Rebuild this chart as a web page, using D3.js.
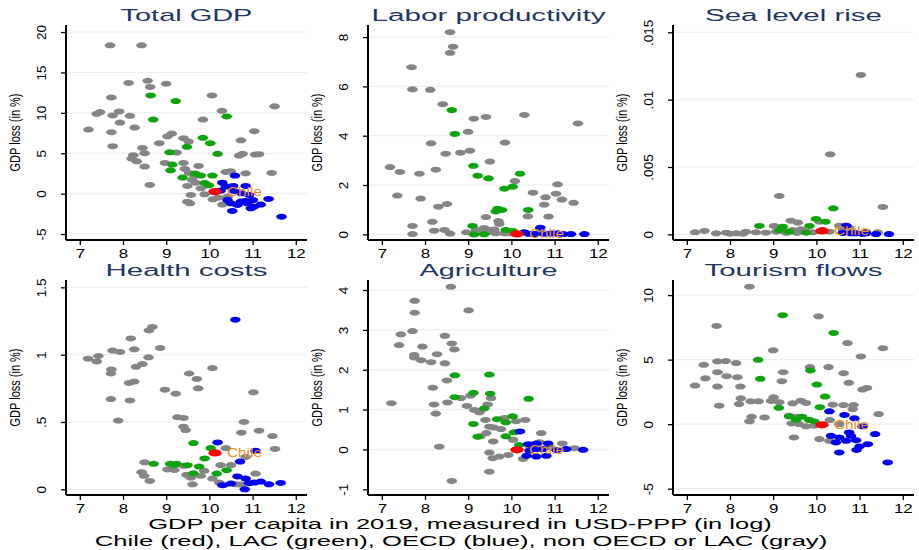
<!DOCTYPE html>
<html>
<head>
<meta charset="utf-8">
<script src="https://cdn.jsdelivr.net/npm/d3@7"></script>
<style>
  body { margin: 0; background: #fff; }
  svg { display: block; }
  text { font-family: "Liberation Sans", Arial, sans-serif; }
</style>
</head>
<body>
<svg id="chart" width="919" height="550"></svg>
<script>
// Panel titles and y-axis ticks
const panelTitles = ["Total GDP", "Labor productivity", "Sea level rise", "Health costs", "Agriculture", "Tourism flows"];
const yTickValues = [
  [-5, 0, 5, 10, 15, 20],
  [0, 2, 4, 6, 8],
  [0, 0.005, 0.01, 0.015],
  [0, 0.5, 1, 1.5],
  [-1, 0, 1, 2, 3, 4],
  [-5, 0, 5, 10]
];
const yTickLabels = [
  ["-5", "0", "5", "10", "15", "20"],
  ["0", "2", "4", "6", "8"],
  ["0", ".005", ".01", ".015"],
  ["0", ".5", "1", "1.5"],
  ["-1", "0", "1", "2", "3", "4"],
  ["-5", "0", "5", "10"]
];
const xTickValues = [7, 8, 9, 10, 11, 12];

// Chile (log GDP per capita, loss in each panel)
const chileX = 10.13;
const chileY = [0.25, 0.02, 0.00025, 0.27, -0.01, -0.05];

// Total GDP
const totalGdpGray = [[7.70,18.35],[8.43,18.35],[8.13,13.7],[8.57,13.97],[8.63,13.2],[9.0,13.6],[10.06,12.15],[7.73,11.9],[11.51,10.8],[7.39,9.88],[7.47,10.1],[7.76,9.67],[7.91,10.17],[8.16,9.63],[7.93,8.8],[8.27,8.18],[7.2,7.93],[7.73,7.6],[10.29,10.25],[9.85,9.17],[11.04,7.73],[9.13,7.44],[9.03,7.1],[9.4,6.86],[9.52,6.45],[10.73,6.6],[7.76,5.87],[8.45,5.66],[8.84,6.24],[8.5,5.0],[8.24,4.75],[9.24,5.08],[10.69,4.71],[10.77,4.92],[11.15,4.88],[11.06,4.83],[8.2,4.34],[8.32,4.0],[8.5,3.35],[8.97,3.8],[9.4,3.8],[9.75,3.43],[9.43,3.06],[10.38,2.69],[10.49,2.77],[10.84,2.52],[11.44,2.56],[9.53,2.56],[9.65,2.19],[9.6,1.7],[8.62,1.07],[9.49,0.95],[9.68,1.36],[9.89,-0.08],[9.57,-0.17],[9.49,-1.0],[10.08,-0.7],[10.3,-1.36],[10.42,-0.37],[9.8,0.66],[9.55,-1.2],[10.2,-0.5]];
const totalGdpLac = [[8.64,12.15],[9.22,11.45],[8.7,9.17],[10.4,9.55],[9.85,6.9],[10.02,6.24],[9.48,5.79],[10.19,4.92],[9.08,5.12],[9.14,3.6],[9.1,2.89],[9.38,1.98],[9.67,2.48],[9.8,2.23],[10.07,2.23],[9.89,1.32],[9.99,1.03]];
const totalGdpOecd = [[10.59,2.23],[10.3,1.36],[10.55,0.95],[10.84,0.95],[10.57,0.33],[10.74,0.04],[11.01,-0.79],[11.37,-0.66],[10.84,-0.91],[10.53,-2.15],[11.67,-2.85],[10.96,-1.82],[11.19,-1.36],[11.03,-1.61],[10.5,-1.2],[10.65,-1.4],[10.73,-0.99],[10.42,-0.79],[10.92,-0.17],[10.26,0.37],[10.38,0.87],[10.88,-1.2]];

// Labor productivity
const laborGray = [[8.58,8.2],[8.65,7.61],[8.58,7.36],[7.69,6.78],[7.71,5.88],[8.12,5.86],[8.41,5.28],[9.13,4.69],[9.41,4.76],[10.3,4.84],[11.54,4.5],[9.0,4.16],[8.14,3.69],[9.85,3.72],[8.48,3.27],[8.82,3.31],[9.04,3.39],[9.5,2.95],[7.19,2.73],[7.42,2.53],[7.87,2.46],[8.25,2.62],[10.08,2.16],[11.07,2.03],[7.36,1.57],[7.9,1.45],[10.5,1.69],[10.79,1.5],[11.03,1.65],[11.17,1.41],[11.44,1.28],[10.76,1.2],[8.31,1.12],[8.51,1.23],[9.41,0.7],[10.38,0.73],[10.86,0.72],[9.7,0.54],[9.72,0.42],[7.71,0.34],[8.17,0.51],[7.71,0.01],[8.21,0.15],[8.45,0.18],[8.58,0.03],[8.96,0.08],[9.18,0.18],[9.3,0.08],[9.37,0.26],[9.47,0.18],[9.57,0.11],[9.64,0.04],[9.84,0.04],[9.99,0.04],[10.61,0.04],[10.76,0.04],[11.07,0.04],[9.13,0.0],[9.52,0.1],[9.6,0.2]];
const laborLac = [[8.62,5.04],[8.69,4.07],[9.12,2.78],[9.22,2.38],[9.47,2.27],[10.2,2.46],[9.84,1.85],[10.03,1.93],[9.64,0.93],[9.78,0.99],[9.68,1.04],[10.39,0.99],[9.1,0.34],[9.87,0.18],[10.03,0.14],[9.14,0.0],[9.37,0.0]];
const laborOecd = [[10.67,0.27],[10.3,0.08],[11.07,0.03],[11.38,0.01],[11.69,0.01],[10.53,0.01],[10.76,0.02],[10.92,0.03],[11.2,0.01],[10.4,0.02]];

// Sea level rise
const seaGray = [[11.03,0.01183],[10.32,0.00594],[9.14,0.00285],[11.54,0.00203],[9.41,0.00101],[9.57,0.00087],[9.02,0.00062],[10.07,0.00094],[10.53,0.00064],[10.76,0.0005],[7.19,0.00015],[7.41,0.00025],[7.68,0.00008],[7.91,0.00012],[8.14,0.00008],[8.37,0.0002],[8.6,0.00015],[8.83,0.00012],[9.07,0.0002],[9.22,0.00032],[9.45,0.00032],[9.64,0.00037],[9.76,0.0002],[9.91,0.00015],[10.15,0.00032],[10.3,0.0002],[10.61,0.00032],[10.84,0.00015],[11.15,0.0002],[11.42,0.00015],[9.3,0.0001],[9.55,0.0001],[8.0,0.00005],[8.3,0.00005]];
const seaLac = [[10.39,0.00193],[8.68,0.00062],[9.99,0.00114],[10.21,0.00094],[9.84,0.00062],[9.22,0.00057],[9.14,0.00032],[9.37,0.0002],[9.76,0.00012]];
const seaOecd = [[10.69,0.00064],[10.61,0.0001],[10.92,0.00008],[11.15,0.00008],[11.38,0.00002],[11.68,0.00002],[10.8,0.00008],[11.07,0.00004]];

// Health costs
const healthGray = [[8.68,1.206],[8.6,1.18],[8.18,1.12],[8.86,1.05],[7.76,1.03],[7.93,1.02],[8.26,1.04],[8.59,0.98],[7.19,0.97],[7.43,0.99],[7.39,0.95],[7.73,0.89],[7.72,0.86],[8.3,0.91],[8.45,0.93],[9.53,0.86],[10.07,0.9],[9.71,0.82],[8.14,0.79],[8.26,0.8],[9.74,0.75],[8.97,0.74],[9.22,0.71],[11.02,0.72],[7.72,0.67],[8.16,0.66],[7.89,0.51],[9.26,0.535],[9.4,0.53],[10.8,0.5],[9.4,0.465],[9.45,0.44],[10.74,0.42],[11.15,0.435],[11.46,0.395],[11.52,0.3],[10.38,0.306],[10.84,0.24],[8.5,0.2],[10.26,0.18],[10.5,0.18],[9.4,0.174],[9.03,0.147],[9.19,0.144],[9.88,0.137],[8.43,0.127],[8.49,0.1],[8.62,0.062],[9.47,0.107],[9.57,0.087],[9.61,0.037],[9.8,0.1],[10.07,0.08],[10.23,0.05],[11.07,0.117],[10.61,0.037],[10.73,0.035],[10.33,0.03]];
const healthLac = [[9.63,0.343],[10.03,0.306],[9.89,0.229],[8.71,0.189],[9.09,0.189],[9.24,0.189],[9.49,0.179],[9.76,0.169],[9.63,0.119],[10.17,0.117],[10.4,0.142],[9.18,0.18]];
const healthOecd = [[10.6,1.26],[10.19,0.348],[11.07,0.286],[10.71,0.206],[10.65,0.095],[10.84,0.08],[11.04,0.05],[11.19,0.057],[11.38,0.037],[11.65,0.047],[10.82,0.0],[10.3,0.03],[10.5,0.042],[10.92,0.045]];

// Agriculture
const agriGray = [[8.6,4.08],[9.01,3.49],[7.76,3.73],[7.76,3.43],[7.71,2.97],[7.44,2.89],[8.46,2.85],[7.4,2.62],[8.62,2.66],[8.68,2.51],[7.94,2.58],[8.28,2.39],[7.75,2.37],[7.75,2.31],[7.91,2.24],[8.14,2.19],[8.46,2.16],[8.51,1.73],[8.18,1.55],[7.22,1.16],[8.21,1.13],[8.52,1.18],[8.25,0.9],[8.83,1.29],[9.05,1.35],[9.53,1.29],[9.45,1.13],[8.97,1.09],[9.14,0.99],[9.26,0.93],[9.4,0.74],[10.32,0.74],[9.84,0.79],[10.11,0.71],[9.49,0.57],[9.6,0.55],[9.76,0.51],[10.69,0.41],[9.42,0.41],[9.28,0.33],[9.58,0.2],[10.04,0.24],[10.65,0.18],[11.18,0.15],[8.33,0.07],[9.49,-0.08],[9.93,-0.14],[9.72,-0.18],[9.57,-0.22],[10.27,-0.24],[9.49,-0.56],[8.62,-0.79],[11.46,0.03],[10.9,0.05],[10.42,0.09]];
const agriLac = [[8.69,1.86],[9.49,1.88],[9.12,1.42],[9.51,1.4],[8.69,1.31],[10.4,1.27],[9.12,0.64],[10.03,0.83],[9.67,0.76],[9.87,0.68],[9.37,1.03],[9.22,0.32],[9.87,0.33],[10.06,0.43],[10.18,0.11]];
const agriOecd = [[10.2,0.45],[10.39,0.13],[10.58,0.15],[10.85,0.15],[10.58,0.01],[11.05,-0.02],[11.27,0.01],[11.66,-0.01],[10.35,-0.16],[10.58,-0.18],[10.81,-0.16],[10.73,0.01],[10.42,-0.03]];

// Tourism flows
const tourismGray = [[8.45,10.65],[10.05,8.36],[7.69,7.61],[10.72,6.28],[11.54,5.89],[11.03,5.25],[9.0,5.72],[7.39,4.6],[7.71,4.87],[7.9,4.89],[8.14,4.73],[9.85,4.42],[10.28,4.42],[7.43,3.55],[7.71,4.03],[7.92,3.72],[8.17,3.64],[9.23,4.03],[10.63,3.95],[10.75,3.2],[7.19,2.99],[7.71,2.91],[8.24,2.91],[9.2,3.33],[11.07,2.68],[11.17,2.81],[7.75,1.43],[8.25,2.0],[8.48,1.77],[8.66,1.77],[8.21,1.56],[9.01,2.08],[8.95,1.8],[9.14,1.7],[9.45,1.61],[9.64,1.82],[9.76,1.64],[10.38,1.51],[10.63,1.48],[10.86,1.48],[10.84,1.17],[11.44,0.78],[8.8,0.52],[8.5,0.57],[8.45,0.22],[9.37,0.66],[9.56,0.58],[10.31,0.32],[9.84,0.32],[9.43,0.06],[9.6,0.01],[9.76,-0.17],[9.95,-0.12],[9.48,-1.03],[10.07,-1.16],[10.3,-1.29],[10.53,0.01]];
const tourismLac = [[9.22,8.44],[10.4,7.07],[8.65,4.99],[8.7,3.51],[9.86,4.16],[10.01,3.07],[10.2,2.14],[10.08,1.31],[9.13,1.27],[9.37,0.6],[9.67,0.58],[9.84,0.32],[9.53,0.34],[9.95,0.21]];
const tourismOecd = [[10.3,0.99],[10.65,0.71],[10.88,0.45],[11.07,-0.17],[10.34,-0.9],[11.36,-0.77],[10.53,-1.03],[10.76,-0.64],[10.69,-1.29],[10.92,-1.24],[11.0,-1.73],[11.19,-1.55],[10.53,-2.19],[10.93,-2.0],[11.65,-2.97],[10.45,-1.42],[10.8,-0.9]];

const grayData = [totalGdpGray, laborGray, seaGray, healthGray, agriGray, tourismGray];
const lacData = [totalGdpLac, laborLac, seaLac, healthLac, agriLac, tourismLac];
const oecdData = [totalGdpOecd, laborOecd, seaOecd, healthOecd, agriOecd, tourismOecd];

// ---- layout ----
const svg = d3.select("#chart");
const colLeft = [66, 368, 673];
const rowTop = [25, 280];
const plotW = 241, plotH = 215;
const xDomain = [6.68, 12.26];
const yDomains = [
  [-5.74, 20.87], [-0.23, 8.49], [-0.00042, 0.01554],
  [-0.0425, 1.5545], [-1.144, 4.252], [-5.49, 11.17]
];
const titleWidths = [132, 234, 177, 162, 138, 178];

const colors = { gray: "#858585", lac: "#0fa40f", oecd: "#0000f5", chile: "#ff0000", label: "#f28c1c", title: "#1f3566", grid: "#e5eef0" };

// Place a text at (tx, ty), optionally rotated, and stretch it along its length to a given width
function placeFitted(sel, tx, ty, width, rotate) {
  sel.attr("x", 0).attr("y", 0);
  const natural = sel.node().getComputedTextLength();
  const sx = width / natural;
  sel.attr("transform", `translate(${tx},${ty})${rotate ? ` rotate(${rotate})` : ""} scale(${sx},1)`);
  return sel;
}

panelTitles.forEach((title, i) => {
  const left = colLeft[i % 3];
  const top = rowTop[Math.floor(i / 3)];
  const g = svg.append("g").attr("transform", `translate(${left},${top})`);

  const x = d3.scaleLinear().domain(xDomain).range([0, plotW]);
  const y = d3.scaleLinear().domain(yDomains[i]).range([plotH, 0]);

  // grid lines
  g.selectAll("line.grid").data(yTickValues[i]).join("line")
    .attr("class", "grid")
    .attr("x1", 0).attr("x2", plotW)
    .attr("y1", d => y(d)).attr("y2", d => y(d))
    .attr("stroke", colors.grid).attr("stroke-width", 1);

  // y axis
  const yAxis = d3.axisLeft(y).tickValues(yTickValues[i]).tickSize(5)
    .tickFormat((d, k) => yTickLabels[i][k]);
  const ya = g.append("g").call(yAxis);
  ya.select(".domain").attr("d", `M0,0V${plotH}`).attr("stroke", "#000").attr("stroke-width", 2);
  ya.selectAll(".tick line").attr("stroke", "#000").attr("stroke-width", 1.3);
  ya.selectAll(".tick text")
    .attr("x", null).attr("dy", null)
    .attr("transform", "translate(-20,0) rotate(-90)")
    .attr("text-anchor", "middle")
    .attr("font-size", 13.5).attr("fill", "#000")
    .attr("font-family", "Liberation Sans, Arial, sans-serif");

  // x axis
  const xAxis = d3.axisBottom(x).tickValues(xTickValues).tickSize(5).tickFormat(d3.format("d"));
  const xa = g.append("g").attr("transform", `translate(0,${plotH})`).call(xAxis);
  xa.select(".domain").attr("d", `M0,0H${plotW}`).attr("stroke", "#000").attr("stroke-width", 2);
  xa.selectAll(".tick line").attr("stroke", "#000").attr("stroke-width", 1.3);
  xa.selectAll(".tick text")
    .attr("y", null).attr("dy", null)
    .attr("transform", "translate(0,18) scale(1.25,1)")
    .attr("text-anchor", "middle")
    .attr("font-size", 13.5).attr("fill", "#000")
    .attr("font-family", "Liberation Sans, Arial, sans-serif");

  // y axis title (condensed along its length)
  const yt = g.append("text")
    .attr("text-anchor", "middle")
    .attr("font-size", 14.5)
    .attr("fill", "#000")
    .text("GDP loss (in %)");
  placeFitted(yt, -46, plotH / 2, 78, -90);

  // panel title (wide lettering)
  const tt = g.append("text")
    .attr("text-anchor", "middle")
    .attr("font-size", 16)
    .attr("fill", colors.title)
    .text(title);
  placeFitted(tt, plotW / 2, -4, titleWidths[i]);

  // markers
  const drawGroup = (data, color, rx, ry) => {
    g.append("g").selectAll("ellipse").data(data).join("ellipse")
      .attr("cx", d => x(d[0])).attr("cy", d => y(d[1]))
      .attr("rx", rx).attr("ry", ry)
      .attr("fill", color);
  };
  drawGroup(grayData[i], colors.gray, 5.3, 3.0);
  drawGroup(lacData[i], colors.lac, 5.3, 3.0);
  drawGroup(oecdData[i], colors.oecd, 5.3, 3.0);
  drawGroup([[chileX, chileY[i]]], colors.chile, 6.7, 3.6);

  const cl = g.append("text")
    .attr("font-size", 12.5)
    .attr("fill", colors.label)
    .text("Chile");
  placeFitted(cl, x(chileX) + 12, y(chileY[i]) + 4.5, 35);
});

// shared notes under the grid
const note1 = svg.append("text")
  .attr("text-anchor", "middle").attr("font-size", 15)
  .attr("fill", "#000")
  .text("GDP per capita in 2019, measured in USD-PPP (in log)");
placeFitted(note1, 460, 529, 624);
const note2 = svg.append("text")
  .attr("text-anchor", "middle").attr("font-size", 15)
  .attr("fill", "#000")
  .text("Chile (red), LAC (green), OECD (blue), non OECD or LAC (gray)");
placeFitted(note2, 461, 546, 733);
</script>
</body>
</html>
